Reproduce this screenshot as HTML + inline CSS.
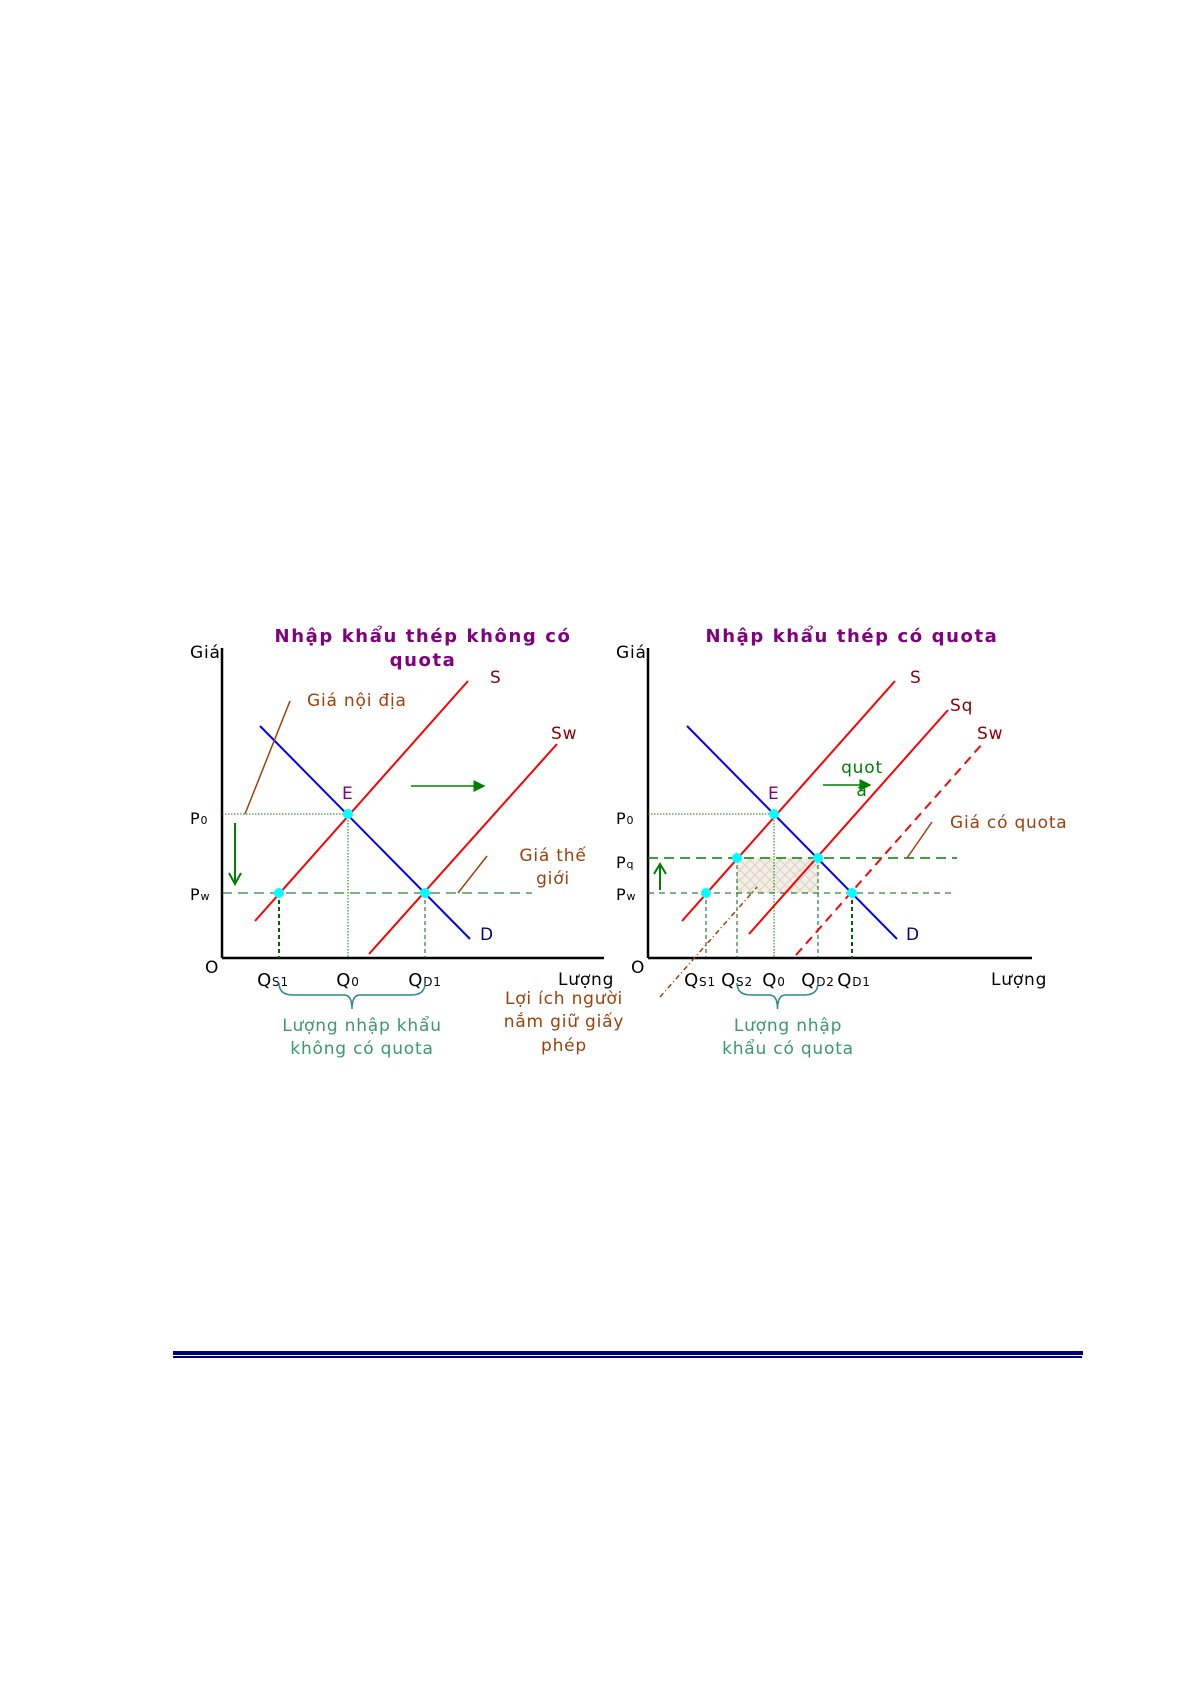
<!DOCTYPE html>
<html><head><meta charset="utf-8"><style>
html,body{margin:0;padding:0;background:#fff;}
svg{display:block;font-family:"DejaVu Sans","Liberation Sans",sans-serif;}
svg text{letter-spacing:0.8px;}
svg text[font-weight="bold"]{letter-spacing:1.6px;}
</style></head><body>
<svg width="1192" height="1685" viewBox="0 0 1192 1685" xmlns="http://www.w3.org/2000/svg">
<defs>
<pattern id="hatch" width="10" height="10" patternUnits="userSpaceOnUse">
<rect width="10" height="10" fill="#f3eee6"/>
<path d="M0 0L10 10M10 0L0 10" stroke="#d9d2c8" stroke-width="1"/>
</pattern>
<marker id="ag" markerWidth="8" markerHeight="8" refX="7" refY="4" orient="auto"><path d="M0 0L8 4L0 8Z" fill="#008000"/></marker>
</defs>
<g id="left"></g>
<g id="right"></g>
<rect x="173" y="1351" width="910" height="4" fill="#000080"/>
<rect x="173" y="1356" width="909" height="2" fill="#000080"/>
</svg>
<script>
// data (quantity, price units)
const leftCurves = {S:[[8.25,9.25],[61.5,69.25]], Sw:[[36.75,1],[83.75,53.5]], D:[[9.5,58],[62,4.75]]};
const rightCurves = {S:[[8.5,9.25],[61.75,69.25]], Sq:[[25.25,6],[75,62]], Sw:[[37,0.75],[83.75,53.75]], D:[[9.75,58],[62.25,4.75]]};
const priceP0 = 36, pricePw = 16.25, pricePq = 25;
const leftQ = {Qs1:14.25, Q0:31.5, Qd1:50.75};
const rightQ = {Qs1:14.5, Qs2:22.25, Q0:31.5, Qd2:42.5, Qd1:51};
const leftQLabels = ["Q","Q","Q"], leftQSubs = ["S1","0","D1"];
const rightQLabels = ["Q","Q","Q","Q","Q"], rightQSubs = ["S1","S2","0","D2","D1"];

const NS="http://www.w3.org/2000/svg";
function mk(parent,tag,attrs,name,text){const e=document.createElementNS(NS,tag);for(const k in attrs)e.setAttribute(k,attrs[k]);


if(text!==undefined)e.textContent=text;parent.appendChild(e);return e;}
function axes(ox,oy){return {x:q=>ox+q*4, y:p=>oy-p*4};}
function txt(g,x,y,s,fill,size,name,anchor,weight){return mk(g,'text',{x:x,y:y,fill:fill,'font-size':size,'text-anchor':anchor||'start','font-weight':weight||'normal'},name,s);}
function qlabel(g,x,y,main,sub,name){const t=mk(g,'text',{x:x,y:y,'font-size':18,fill:'#000','text-anchor':'middle'},name);
const a=document.createElementNS(NS,'tspan');a.textContent=main;t.appendChild(a);
const b=document.createElementNS(NS,'tspan');b.setAttribute('font-size','12');b.textContent=sub;t.appendChild(b);}
function brace(g,x1,x2,y,name){const m=(x1+x2)/2;mk(g,'path',{d:`M${x1} ${y} Q${x1} ${y+12} ${x1+14} ${y+12} L${m-8} ${y+12} Q${m} ${y+12} ${m} ${y+26} Q${m} ${y+12} ${m+8} ${y+12} L${x2-14} ${y+12} Q${x2} ${y+12} ${x2} ${y}`,fill:'none',stroke:'#2a8a8a','stroke-width':1.5},name);}
function dot(g,x,y,name){mk(g,'circle',{cx:x,cy:y,r:5,fill:'#00ffff'},name);}

// LEFT
(function(){
const g=document.getElementById('left'), A=axes(222,958);
mk(g,'line',{x1:222,y1:648,x2:222,y2:958,stroke:'#000','stroke-width':2.5},'y-axis');
mk(g,'line',{x1:222,y1:958,x2:604,y2:958,stroke:'#000','stroke-width':2.5},'x-axis');
txt(g,423,642,'Nhập khẩu thép không có','#800080',18,'title-line1','middle','bold');
txt(g,423,666,'quota','#800080',18,'title-line2','middle','bold');
txt(g,190,658,'Giá','#000',17,'y-axis-title');
txt(g,558,985,'Lượng','#000',17,'x-axis-title');
txt(g,205,973,'O','#000',17,'origin-label');
mk(g,'line',{x1:222,y1:A.y(priceP0),x2:A.x(leftQ.Q0),y2:A.y(priceP0),stroke:'#008000','stroke-dasharray':'1.5 1.5'},'p0-guide');
mk(g,'line',{x1:A.x(leftQ.Q0),y1:A.y(priceP0),x2:A.x(leftQ.Q0),y2:958,stroke:'#008000','stroke-dasharray':'1.5 1.5'},'q0-guide');
mk(g,'line',{x1:222,y1:A.y(pricePw),x2:532,y2:A.y(pricePw),stroke:'#006400','stroke-dasharray':'10 6'},'world-price-line');
mk(g,'line',{x1:A.x(leftQ.Qs1),y1:A.y(pricePw),x2:A.x(leftQ.Qs1),y2:958,stroke:'#006400','stroke-width':2,'stroke-dasharray':'4 3'},'qs1-guide');
mk(g,'line',{x1:A.x(leftQ.Qd1),y1:A.y(pricePw),x2:A.x(leftQ.Qd1),y2:958,stroke:'#006400','stroke-dasharray':'4 3'},'qd1-guide');
const cols={S:'#ff0000',Sw:'#ff0000',D:'#0000ff'};
for(const k in leftCurves){const c=leftCurves[k];mk(g,'line',{x1:A.x(c[0][0]),y1:A.y(c[0][1]),x2:A.x(c[1][0]),y2:A.y(c[1][1]),stroke:cols[k],'stroke-width':2},'curve-'+k.toLowerCase());}
dot(g,A.x(leftQ.Q0),A.y(priceP0),'point-e');dot(g,A.x(leftQ.Qs1),A.y(pricePw),'point-qs1');dot(g,A.x(leftQ.Qd1),A.y(pricePw),'point-qd1');
txt(g,490,683,'S','#8b0000',17,'label-s');txt(g,551,739,'Sw','#8b0000',17,'label-sw');
txt(g,480,940,'D','#00008b',17,'label-d');txt(g,342,799,'E','#800080',17,'label-e');
txt(g,190,824,'P','#000',16,'label-p0').innerHTML='P<tspan font-size="11">0</tspan>';
txt(g,190,900,'P','#000',16,'label-pw').innerHTML='P<tspan font-size="11">w</tspan>';
txt(g,307,706,'Giá nội địa','#a0400a',17,'label-domestic-price');
mk(g,'line',{x1:245,y1:814,x2:290,y2:701,stroke:'#a0400a','stroke-width':1.5},'domestic-price-pointer');
txt(g,553,861,'Giá thế','#a0400a',17,'label-world-price-1','middle');txt(g,553,884,'giới','#a0400a',17,'label-world-price-2','middle');
mk(g,'line',{x1:458,y1:893,x2:487,y2:856,stroke:'#a0400a','stroke-width':1.5},'world-price-pointer');
mk(g,'line',{x1:411,y1:786,x2:484,y2:786,stroke:'#008000','stroke-width':1.5,'marker-end':'url(#ag)'},'shift-arrow');
mk(g,'path',{d:'M235 823 L235 884 M229 873 L235 884 L241 873',fill:'none',stroke:'#008000','stroke-width':2},'price-down-arrow');
const qk=Object.keys(leftQ);qk.forEach((k,i)=>qlabel(g,A.x(leftQ[k])+(i==0?-6:0),986,leftQLabels[i],leftQSubs[i],'tick-'+k.toLowerCase()));
brace(g,A.x(leftQ.Qs1),A.x(leftQ.Qd1),983,'import-brace');
txt(g,362,1031,'Lượng nhập khẩu','#3a9a6a',17,'import-label-1','middle');txt(g,362,1054,'không có quota','#3a9a6a',17,'import-label-2','middle');
txt(g,564,1004,'Lợi ích người','#a0400a',17,'license-label-1','middle');txt(g,564,1027,'nắm giữ giấy','#a0400a',17,'license-label-2','middle');txt(g,564,1051,'phép','#a0400a',17,'license-label-3','middle');
})();

// RIGHT
(function(){
const g=document.getElementById('right'), A=axes(648,958);
mk(g,'rect',{x:A.x(rightQ.Qs2),y:A.y(pricePq),width:A.x(rightQ.Qd2)-A.x(rightQ.Qs2),height:A.y(pricePw)-A.y(pricePq),fill:'url(#hatch)'},'quota-rent-area');
mk(g,'line',{x1:648,y1:648,x2:648,y2:958,stroke:'#000','stroke-width':2.5},'y-axis');
mk(g,'line',{x1:648,y1:958,x2:1032,y2:958,stroke:'#000','stroke-width':2.5},'x-axis');
txt(g,852,642,'Nhập khẩu thép có quota','#800080',18,'title','middle','bold');
txt(g,616,658,'Giá','#000',17,'y-axis-title');
txt(g,991,985,'Lượng','#000',17,'x-axis-title');
txt(g,631,973,'O','#000',17,'origin-label');
mk(g,'line',{x1:648,y1:A.y(priceP0),x2:A.x(rightQ.Q0),y2:A.y(priceP0),stroke:'#008000','stroke-dasharray':'1.5 1.5'},'p0-guide');
mk(g,'line',{x1:A.x(rightQ.Q0),y1:A.y(priceP0),x2:A.x(rightQ.Q0),y2:958,stroke:'#008000','stroke-dasharray':'1.5 1.5'},'q0-guide');
mk(g,'line',{x1:648,y1:A.y(pricePq),x2:957,y2:A.y(pricePq),stroke:'#008000','stroke-width':1.5,'stroke-dasharray':'10 6'},'quota-price-line');
mk(g,'line',{x1:648,y1:A.y(pricePw),x2:955,y2:A.y(pricePw),stroke:'#006400','stroke-dasharray':'6 5'},'world-price-line');
['Qs1','Qs2','Qd2','Qd1'].forEach(k=>{const p=(k=='Qs2'||k=='Qd2')?pricePq:pricePw;
mk(g,'line',{x1:A.x(rightQ[k]),y1:A.y(p),x2:A.x(rightQ[k]),y2:958,stroke:'#006400','stroke-width':k=='Qd1'?2:1,'stroke-dasharray':'4 3'},'guide-'+k.toLowerCase());});
mk(g,'line',{x1:660,y1:997,x2:757,y2:887,stroke:'#a0400a','stroke-width':1.5,'stroke-dasharray':'5 3 1 3'},'license-pointer');
for(const k in rightCurves){const c=rightCurves[k];const at={x1:A.x(c[0][0]),y1:A.y(c[0][1]),x2:A.x(c[1][0]),y2:A.y(c[1][1]),stroke:k=='D'?'#0000ff':'#ff0000','stroke-width':2};
if(k=='Sw')at['stroke-dasharray']='9 6';mk(g,'line',at,'curve-'+k.toLowerCase());}
dot(g,A.x(rightQ.Q0),A.y(priceP0),'point-e');dot(g,A.x(rightQ.Qs1),A.y(pricePw),'point-qs1');dot(g,A.x(rightQ.Qs2),A.y(pricePq),'point-qs2');
dot(g,A.x(rightQ.Qd2),A.y(pricePq),'point-qd2');dot(g,A.x(rightQ.Qd1),A.y(pricePw),'point-qd1');
txt(g,910,683,'S','#8b0000',17,'label-s');txt(g,950,711,'Sq','#8b0000',17,'label-sq');txt(g,977,739,'Sw','#8b0000',17,'label-sw');
txt(g,906,940,'D','#00008b',17,'label-d');txt(g,768,799,'E','#800080',17,'label-e');
txt(g,616,824,'P','#000',16,'label-p0').innerHTML='P<tspan font-size="11">0</tspan>';
txt(g,616,868,'P','#000',16,'label-pq').innerHTML='P<tspan font-size="11">q</tspan>';
txt(g,616,900,'P','#000',16,'label-pw').innerHTML='P<tspan font-size="11">w</tspan>';
txt(g,862,773,'quot','#008000',17,'label-quota-1','middle');txt(g,862,796,'a','#008000',17,'label-quota-2','middle');
mk(g,'line',{x1:823,y1:785,x2:870,y2:785,stroke:'#008000','stroke-width':1.5,'marker-end':'url(#ag)'},'quota-shift-arrow');
txt(g,950,828,'Giá có quota','#a0400a',17,'label-quota-price');
mk(g,'line',{x1:907,y1:858,x2:932,y2:822,stroke:'#a0400a','stroke-width':1.5},'quota-price-pointer');
mk(g,'path',{d:'M660 890 L660 864 M654 874 L660 864 L666 874',fill:'none',stroke:'#008000','stroke-width':2},'price-up-arrow');
const qk=Object.keys(rightQ);qk.forEach((k,i)=>qlabel(g,A.x(rightQ[k])+(i==0?-6:i==4?2:0),986,rightQLabels[i],rightQSubs[i],'tick-'+k.toLowerCase()));
brace(g,A.x(rightQ.Qs2),A.x(rightQ.Qd2),983,'import-brace');
txt(g,788,1031,'Lượng nhập','#3a9a6a',17,'import-label-1','middle');txt(g,788,1054,'khẩu có quota','#3a9a6a',17,'import-label-2','middle');
})();
</script>
</body></html>
